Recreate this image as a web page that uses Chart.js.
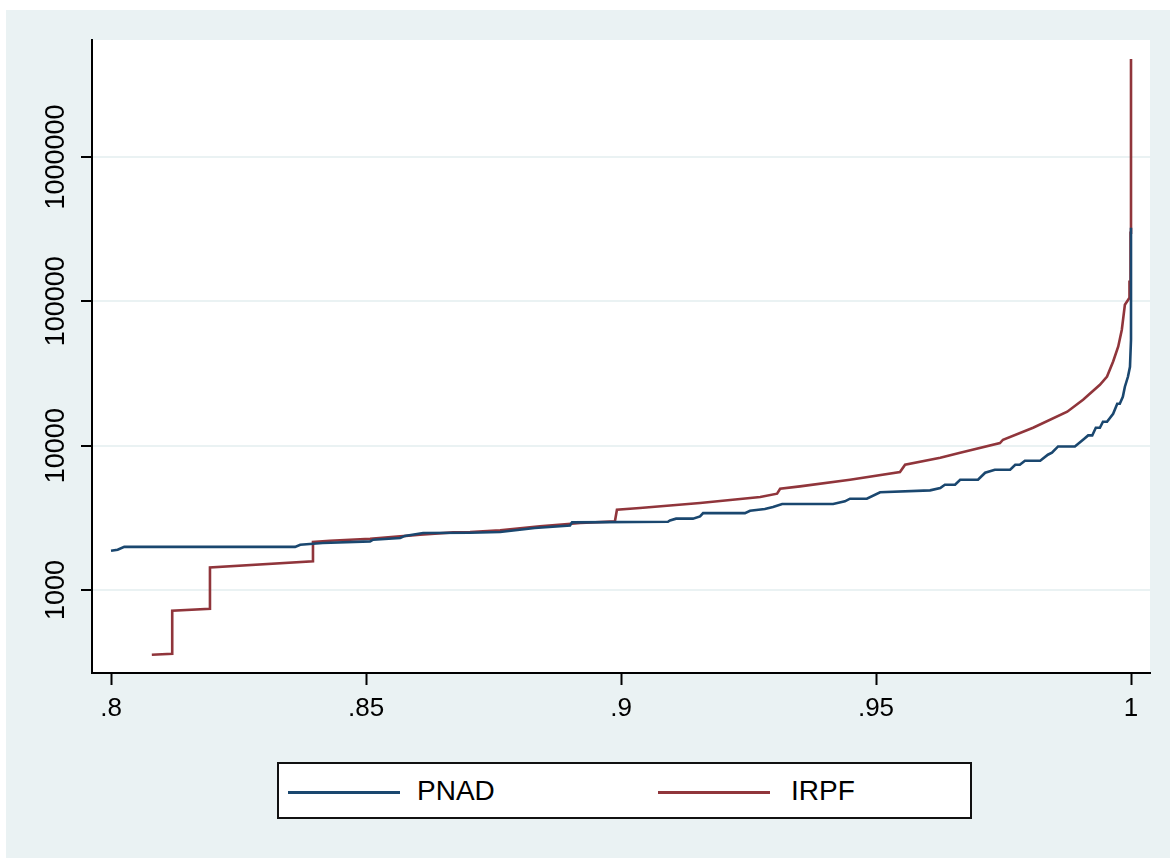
<!DOCTYPE html>
<html>
<head>
<meta charset="utf-8">
<script src="https://cdn.jsdelivr.net/npm/chart.js@4.4.1/dist/chart.umd.min.js"></script>
<style>
  body { margin: 0; background: #fff; width: 1171px; height: 859px; position: relative; overflow: hidden; }
  #frame { position: absolute; left: 6px; top: 10px; width: 1164px; height: 848px; background: #EAF2F3; }
  #chart { position: absolute; left: 0; top: 0; }
  #legend {
    position: absolute; left: 271px; top: 752px; width: 691px; height: 53px;
    background: #fff; border: 2px solid #111; font-family: Arial, 'Liberation Sans', sans-serif;
  }
  .swatch { position: absolute; top: 27px; height: 3px; width: 112px; }
  .lbl { position: absolute; top: 10px; font-size: 28px; color: #000; line-height: 34px; }
</style>
</head>
<body>
<div id="frame">
  <canvas id="chart" width="1164" height="848"></canvas>
  <div id="legend">
    <div class="swatch" style="left:9px;background:#1A476F"></div>
    <div class="lbl" style="left:138px">PNAD</div>
    <div class="swatch" style="left:379px;background:#90353B"></div>
    <div class="lbl" style="left:512px">IRPF</div>
  </div>
</div>
<script>
// quantile (share of population) -> income
const pnadP = [0.8000, 0.8013, 0.8026, 0.8361, 0.8371, 0.8396, 0.8415, 0.8508, 0.8514, 0.8567,
  0.8576, 0.8612, 0.8704, 0.8763, 0.8831, 0.8900, 0.8904, 0.9092, 0.9096, 0.9108,
  0.9141, 0.9155, 0.9161, 0.9243, 0.9253, 0.9282, 0.9298, 0.9316, 0.9416, 0.9439,
  0.9449, 0.9482, 0.9508, 0.9606, 0.9626, 0.9635, 0.9655, 0.9665, 0.9700, 0.9714,
  0.9733, 0.9763, 0.9773, 0.9782, 0.9792, 0.9822, 0.9837, 0.9845, 0.9857, 0.9890,
  0.9906, 0.9916, 0.9924, 0.9931, 0.9939, 0.9945, 0.9953, 0.9965, 0.9973, 0.9978,
  0.9984, 0.9988, 0.9994, 0.9998, 1.0000, 1.0000];
const pnadV = [1870, 1900, 1990, 1990, 2060, 2090, 2116, 2171, 2230, 2290,
  2370, 2480, 2490, 2520, 2690, 2800, 2940, 2970, 3030, 3120,
  3120, 3230, 3410, 3410, 3540, 3640, 3760, 3940, 3940, 4110,
  4290, 4290, 4750, 4900, 5090, 5360, 5360, 5800, 5800, 6490,
  6810, 6810, 7370, 7370, 7860, 7860, 8650, 8930, 9870, 9870,
  10990, 11770, 11770, 13300, 13300, 14640, 14640, 16630, 19500, 19500,
  21800, 25600, 30000, 35200, 54100, 322800];

const irpfP = [0.8080, 0.8120, 0.8120, 0.8194, 0.8194, 0.8396, 0.8396, 0.8429, 0.8508, 0.8567,
  0.8606, 0.8671, 0.8704, 0.8763, 0.8841, 0.8920, 0.8988, 0.8992, 0.9037, 0.9155,
  0.9273, 0.9306, 0.9312, 0.9351, 0.9449, 0.9547, 0.9557, 0.9626, 0.9665, 0.9743,
  0.9749, 0.9808, 0.9875, 0.9906, 0.9939, 0.9953, 0.9965, 0.9975, 0.9982, 0.9988,
  0.9997, 0.9997, 0.9999, 0.9999, 1.0000, 1.0000, 1.0000];
const irpfV = [356, 362, 719, 742, 1434, 1578, 2150, 2195, 2266, 2351,
  2415, 2505, 2520, 2587, 2757, 2911, 2987, 3600, 3700, 4005,
  4406, 4645, 5030, 5219, 5805, 6565, 7374, 8246, 8930, 10420,
  10990, 13300, 17170, 20800, 26400, 30100, 38300, 48700, 63500, 94600,
  105700, 136500, 136500, 298500, 298500, 1750000, 4780000];

const xTicks = [0.8, 0.85, 0.9, 0.95, 1];
const xTickLabels = ['.8', '.85', '.9', '.95', '1'];
const yTicks = [1000, 10000, 100000, 1000000];
const yTickLabels = ['1000', '10000', '100000', '1000000'];

const toPoints = (px, vy) => px.map((p, i) => ({ x: p, y: vy[i] }));

// white plot region behind the lines
const plotBg = {
  id: 'plotBg',
  beforeDraw(chart) {
    const { ctx, chartArea: a } = chart;
    ctx.save();
    ctx.fillStyle = '#fff';
    ctx.fillRect(a.left, a.top, a.right - a.left, a.bottom - a.top);
    ctx.restore();
  }
};

// y labels are rotated 90 degrees, Chart.js does not rotate vertical-axis labels
const yLabels = {
  id: 'yLabels',
  afterDraw(chart) {
    const { ctx } = chart;
    const y = chart.scales.y;
    ctx.save();
    ctx.fillStyle = '#000';
    ctx.font = '27px Arial, "Liberation Sans", sans-serif';
    ctx.textAlign = 'center';
    ctx.textBaseline = 'middle';
    yTicks.forEach((v, i) => {
      ctx.save();
      ctx.translate(51, y.getPixelForValue(v));
      ctx.rotate(-Math.PI / 2);
      ctx.fillText(yTickLabels[i], 0, 0);
      ctx.restore();
    });
    ctx.restore();
  }
};

new Chart(document.getElementById('chart'), {
  type: 'line',
  data: {
    datasets: [
      {
        label: 'PNAD',
        data: toPoints(pnadP, pnadV),
        borderColor: '#1A476F',
        borderWidth: 2.6,
        pointRadius: 0,
        tension: 0,
        fill: false
      },
      {
        label: 'IRPF',
        data: toPoints(irpfP, irpfV),
        borderColor: '#90353B',
        borderWidth: 2.6,
        pointRadius: 0,
        tension: 0,
        fill: false
      }
    ]
  },
  options: {
    responsive: false,
    animation: false,
    layout: { padding: { left: 0, right: 20, top: 30, bottom: 125 } },
    plugins: {
      legend: { display: false },
      tooltip: { enabled: false }
    },
    scales: {
      x: {
        type: 'linear',
        min: 0.79627,
        max: 1.003725,
        afterBuildTicks: (s) => { s.ticks = xTicks.map(v => ({ value: v })); },
        afterFit: (s) => { s.height = 60; },
        grid: { drawOnChartArea: false, drawTicks: true, tickLength: 12, tickColor: '#000', tickWidth: 2 },
        border: { color: '#000', width: 2 },
        ticks: {
          color: '#000',
          padding: 8,
          maxRotation: 0,
          font: { family: 'Arial, "Liberation Sans", sans-serif', size: 26 },
          callback: (v) => xTickLabels[xTicks.indexOf(v)]
        }
      },
      y: {
        type: 'logarithmic',
        min: 266,
        max: 6460000,
        afterBuildTicks: (s) => { s.ticks = yTicks.map(v => ({ value: v })); },
        afterFit: (s) => { s.width = 86; },
        grid: { color: '#EAF2F3', lineWidth: 2, drawTicks: true, tickLength: 11, tickColor: '#000', tickWidth: 2 },
        border: { color: '#000', width: 2 },
        ticks: { display: false }
      }
    }
  },
  plugins: [plotBg, yLabels]
});
</script>
</body>
</html>
